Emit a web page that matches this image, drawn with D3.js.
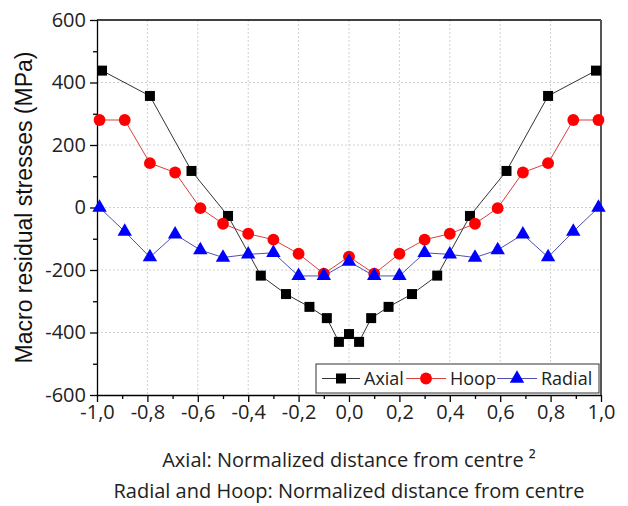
<!DOCTYPE html>
<html>
<head>
<meta charset="utf-8">
<script src="https://cdn.jsdelivr.net/npm/d3@7"></script>
<style>
body { margin: 0; background: #fff; }
.grid line { stroke: #d0d0d0; stroke-dasharray: 2,2; }
.axis text { font-family: "Open Sans", sans-serif; font-size: 20px; fill: #222; }
.axis path, .axis line { stroke: #000; stroke-width: 1.3; }
</style>
</head>
<body>
<div class="container"></div>
<script>
// axial uses (normalized distance)^2, hoop & radial use normalized distance
var axialX = [-0.98, -0.79, -0.625, -0.48, -0.35, -0.25, -0.157, -0.088, -0.04, 0, 0.04, 0.088, 0.157, 0.25, 0.35, 0.48, 0.625, 0.79, 0.98];
var axialY = [438, 357, 117, -27, -218, -277, -318, -354, -430, -405, -430, -354, -318, -277, -218, -27, 117, 357, 438];
var hoopX = [-0.99, -0.89, -0.79, -0.69, -0.59, -0.5, -0.4, -0.3, -0.2, -0.1, 0, 0.1, 0.2, 0.3, 0.4, 0.5, 0.59, 0.69, 0.79, 0.89, 0.99];
var hoopY = [280, 280, 142, 112, -2, -52, -84, -103, -148, -212, -157, -212, -148, -103, -84, -52, -2, 112, 142, 280, 280];
var radialX = hoopX;
var radialY = [0, -77, -159, -86, -136, -160, -150, -145, -219, -219, -173, -219, -219, -145, -150, -160, -136, -86, -159, -77, 0];
var xTicks = [-1, -0.8, -0.6, -0.4, -0.2, 0, 0.2, 0.4, 0.6, 0.8, 1];
var yTicks = [-600, -400, -200, 0, 200, 400, 600];
var seriesNames = ['Axial', 'Hoop', 'Radial'];

var width = 628;
var height = 506;
var pLeft = 97, pRight = 601, pTop = 20, pBottom = 395;

var translate = function(x, y) {
    return 'translate(' + x + ',' + y + ')';
};

var draw = function() {
    var svg = d3.select('.container').append('svg')
        .attr('width', width)
        .attr('height', height);

    var xScale = d3.scaleLinear().domain([-1, 1]).range([pLeft, pRight]);
    var yScale = d3.scaleLinear().domain([-600, 600]).range([pBottom, pTop]);

    // dashed grid
    var grid = svg.append('g').classed('grid', true);
    grid.selectAll('.gx').data(xTicks.slice(1, -1)).enter().append('line')
        .attr('x1', function(d) { return xScale(d); })
        .attr('x2', function(d) { return xScale(d); })
        .attr('y1', pTop).attr('y2', pBottom);
    grid.selectAll('.gy').data(yTicks.slice(1, -1)).enter().append('line')
        .attr('x1', pLeft).attr('x2', pRight)
        .attr('y1', function(d) { return yScale(d); })
        .attr('y2', function(d) { return yScale(d); });

    var fmt = function(d) { return d3.format('.1f')(d).replace('.', ',').replace('−', '-'); };

    // minor ticks
    var xMinor = d3.axisBottom(xScale).tickValues(d3.range(-9, 10, 2).map(function(d) { return d / 10; }))
        .tickSize(4).tickFormat('');
    var yMinor = d3.axisLeft(yScale).tickValues([-500, -300, -100, 100, 300, 500])
        .tickSize(4).tickFormat('');
    svg.append('g').classed('axis', true).attr('transform', translate(0, pBottom)).call(xMinor)
        .select('.domain').remove();
    svg.append('g').classed('axis', true).attr('transform', translate(pLeft, 0)).call(yMinor)
        .select('.domain').remove();

    var xAxis = d3.axisBottom(xScale).tickValues(xTicks).tickSize(7).tickPadding(3).tickSizeOuter(0)
        .tickFormat(fmt);
    var yAxis = d3.axisLeft(yScale).tickValues(yTicks).tickSize(7).tickPadding(4).tickSizeOuter(0)
        .tickFormat(function(d) { return String(d); });

    svg.append('g').classed('axis', true).attr('transform', translate(0, pBottom)).call(xAxis);
    svg.append('g').classed('axis', true).attr('transform', translate(pLeft, 0)).call(yAxis);

    // frame top / right
    svg.append('line').attr('x1', pLeft).attr('x2', pRight).attr('y1', pTop).attr('y2', pTop)
        .attr('stroke', '#000').attr('stroke-width', 1.3);
    svg.append('line').attr('x1', pRight).attr('x2', pRight).attr('y1', pTop).attr('y2', pBottom)
        .attr('stroke', '#555').attr('stroke-width', 2);

    var series = [
        { name: 'Axial', xs: axialX, ys: axialY, color: '#000', line: '#333', shape: d3.symbolSquare, size: 100 },
        { name: 'Hoop', xs: hoopX, ys: hoopY, color: '#ff0000', line: '#d84040', shape: d3.symbolCircle, size: 110 },
        { name: 'Radial', xs: radialX, ys: radialY, color: '#0000ff', line: '#5050b0', shape: d3.symbolTriangle, size: 90 }
    ];

    var line = d3.line()
        .x(function(d) { return xScale(d[0]); })
        .y(function(d) { return yScale(d[1]); });

    series.forEach(function(s) {
        var pts = s.xs.map(function(x, i) { return [x, s.ys[i]]; });
        var g = svg.append('g');
        g.append('path').datum(pts)
            .attr('d', line)
            .attr('fill', 'none')
            .attr('stroke', s.line)
            .attr('stroke-width', 1);
        g.selectAll('path.mk').data(pts).enter().append('path')
            .classed('mk', true)
            .attr('d', d3.symbol().type(s.shape).size(s.size))
            .attr('transform', function(d) { return translate(xScale(d[0]), yScale(d[1])); })
            .attr('fill', s.color);
    });

    // legend
    var lg = svg.append('g').attr('transform', translate(316, 364));
    lg.append('rect').attr('width', 283).attr('height', 29)
        .attr('fill', '#fff').attr('stroke', '#333').attr('stroke-width', 1);
    var lx = [6, 90, 181];
    var lineLen = [38, 40, 40];
    series.forEach(function(s, i) {
        var x0 = lx[i];
        lg.append('line').attr('x1', x0).attr('x2', x0 + lineLen[i]).attr('y1', 14.5).attr('y2', 14.5)
            .attr('stroke', s.line).attr('stroke-width', 1);
        lg.append('path').attr('d', d3.symbol().type(s.shape).size(s.size))
            .attr('transform', translate(x0 + lineLen[i] / 2, 14.5))
            .attr('fill', s.color);
        lg.append('text').attr('x', x0 + lineLen[i] + 4).attr('y', 21)
            .style('font-family', '"Open Sans", sans-serif').style('font-size', '18px')
            .attr('fill', '#222')
            .text(seriesNames[i]);
    });

    // axis titles
    svg.append('text')
        .attr('transform', translate(32, (pTop + pBottom) / 2) + ' rotate(-90)')
        .attr('text-anchor', 'middle')
        .style('font-family', '"Liberation Sans", Arial, sans-serif')
        .style('font-size', '23px')
        .attr('fill', '#111')
        .text('Macro residual stresses (MPa)');

    svg.append('text').attr('x', 349).attr('y', 467).attr('text-anchor', 'middle')
        .style('font-family', '"Open Sans", sans-serif').style('font-size', '20px').attr('fill', '#222')
        .text('Axial: Normalized distance from centre ²');
    svg.append('text').attr('x', 349).attr('y', 498).attr('text-anchor', 'middle')
        .style('font-family', '"Open Sans", sans-serif').style('font-size', '20px').attr('fill', '#222')
        .text('Radial and Hoop: Normalized distance from centre');
};

window.onload = draw;
</script>
</body>
</html>
